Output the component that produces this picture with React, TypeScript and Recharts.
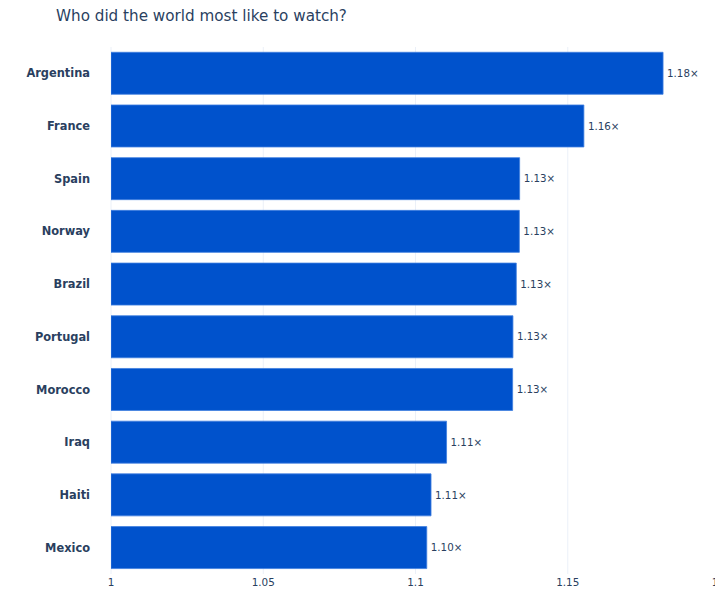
import React from 'react';
import { BarChart, Bar, XAxis, YAxis, CartesianGrid, LabelList } from 'recharts';

const categories = ['Argentina', 'France', 'Spain', 'Norway', 'Brazil', 'Portugal', 'Morocco', 'Iraq', 'Haiti', 'Mexico'];
const multipliers = [1.1813, 1.1553, 1.1342, 1.1341, 1.1331, 1.132, 1.1319, 1.1102, 1.1051, 1.1037];
const xTicks = [1, 1.05, 1.1, 1.15, 1.2];
const title = 'Who did the world most like to watch?';

const data = categories.map((c, i) => ({ country: c, value: multipliers[i] }));

const FONT = '"DejaVu Sans", Verdana, sans-serif';
const TEXT = '#2a3f5f';

export default function App() {
  return (
    <div style={{ position: 'absolute', left: 0, top: 0, width: 715, height: 594, overflow: 'hidden', background: '#fff' }}>
      <BarChart
        width={730}
        height={594}
        data={data}
        layout="vertical"
        margin={{ top: 47, right: 10, bottom: 0, left: 0 }}
        barCategoryGap="10%"
        style={{ fontFamily: FONT }}
      >
        <text x={56} y={20.5} fill={TEXT} fontSize={15.2} fontFamily={FONT}>
          {title}
        </text>
        <CartesianGrid horizontal={false} stroke="#ebf0f8" strokeWidth={1} />
        <XAxis
          type="number"
          domain={[1, 1.2]}
          ticks={xTicks}
          allowDataOverflow
          axisLine={false}
          tickLine={false}
          tickSize={0}
          tickMargin={5}
          height={20}
          interval={0}
          tick={{ fill: TEXT, fontSize: 10.4, fontFamily: FONT }}
        />
        <YAxis
          type="category"
          dataKey="country"
          width={111}
          axisLine={false}
          tickLine={false}
          tickSize={0}
          tickMargin={21}
          interval={0}
          tick={{ fill: TEXT, fontSize: 11.4, fontWeight: 'bold', fontFamily: FONT }}
        />
        <Bar dataKey="value" fill="#0052cc" stroke="#3f7fe0" strokeWidth={0.8} isAnimationActive={false}>
          <LabelList
            dataKey="value"
            position="right"
            offset={4}
            formatter={(v: number) => `${v.toFixed(2)}×`}
            style={{ fill: TEXT, fontSize: 10.3, fontFamily: FONT }}
          />
        </Bar>
      </BarChart>
    </div>
  );
}
